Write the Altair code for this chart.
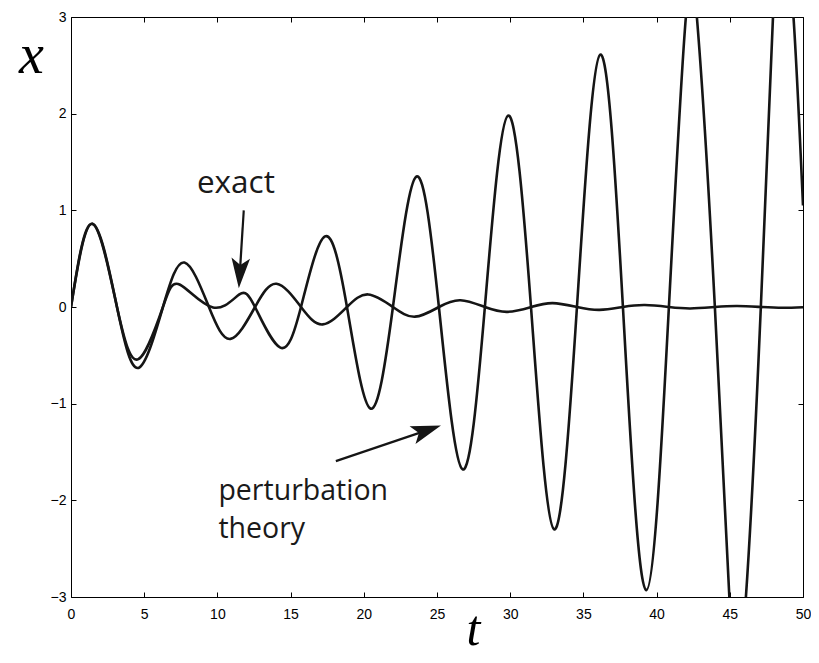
import altair as alt
import pandas as pd

# ---- data ----
t_exact = [0, 1.47, 3.14, 4.61, 6.28, 7.75, 9.42, 10.9, 12.57, 14.04, 15.71, 17.2,
           18.85, 20.3, 21.99, 23.5, 25.13, 26.6, 28.27, 29.8, 31.42, 32.9, 34.56,
           36.1, 37.7, 39.2, 40.84, 42.3, 43.98, 45.5, 47.12, 48.6, 50]
x_exact = [0, 0.86, 0, -0.63, 0, 0.46, 0, -0.33, 0, 0.24, 0, -0.18,
           0, 0.13, 0, -0.10, 0, 0.07, 0, -0.05, 0, 0.04, 0,
           -0.03, 0, 0.02, 0, -0.015, 0, 0.01, 0, -0.008, -0.002]

t_pert = [0, 1.45, 3.14, 4.6, 6.28, 7.45, 9.7, 11.5, 12.57, 14.3, 15.71, 17.35,
          18.85, 20.45, 21.99, 23.6, 25.13, 26.75, 28.27, 29.85, 31.42, 33.0,
          34.56, 36.15, 37.7, 39.3, 40.84, 42.0, 42.4, 42.75, 43.98, 44.97, 45.55,
          46.1, 47.12, 47.95, 48.65, 49.35, 50]
x_pert = [0, 0.86, 0, -0.54, 0, 0.23, -0.005, 0.13, 0, -0.42, 0, 0.73,
          0, -1.05, 0, 1.35, 0, -1.68, 0, 1.98, 0, -2.30,
          0, 2.61, 0, -2.93, 0, 3.0, 3.24, 3.0, 0, -3.0, -3.55,
          -3.0, 0, 3.0, 3.86, 3.0, 1.05]

x_ticks = [0, 5, 10, 15, 20, 25, 30, 35, 40, 45, 50]
y_ticks = [-3, -2, -1, 0, 1, 2, 3]

label_text = ["exact", "perturbation", "theory"]
label_t = [8.6, 10.07, 10.07]
label_x = [1.18, -2.0, -2.39]
label_size = [31.5, 28.5, 28.5]

arrow_t = [11.80, 18.09]
arrow_x = [1.0, -1.594]
arrow_t2 = [11.53, 24.30]
arrow_x2 = [0.35, -1.276]
head_angle = [93.7, 341.4]

# ---- tables ----
curves = pd.DataFrame({
    "t": t_exact + t_pert,
    "x": x_exact + x_pert,
    "series": ["exact"] * len(t_exact) + ["perturbation theory"] * len(t_pert),
})
labels = pd.DataFrame({"text": label_text, "t": label_t, "x": label_x, "size": label_size})
arrows = pd.DataFrame({"t": arrow_t, "x": arrow_x, "t2": arrow_t2, "x2": arrow_x2,
                       "ang": head_angle})

xscale = alt.Scale(domain=[0, 50], nice=False, zero=False)
yscale = alt.Scale(domain=[-3, 3], nice=False, zero=False)

common_axis = dict(offset=-5, tickSize=5, domain=False, grid=False, tickColor="#000",
                   tickWidth=1, labelFont="Liberation Sans", labelFontSize=14,
                   labelColor="#000", labelFlush=False, labelOverlap=False, format="d")

x_axis = alt.Axis(orient="bottom", values=x_ticks, labelPadding=10, title="t",
                  titleFont="Liberation Serif", titleFontStyle="italic",
                  titleFontWeight="normal", titleFontSize=50, titleColor="#000",
                  titleX=402, titleY=52, titleAlign="center",
                  titleBaseline="alphabetic", **common_axis)
y_axis = alt.Axis(orient="left", values=y_ticks, labelPadding=5, title="x",
                  titleFont="Liberation Serif", titleFontStyle="italic",
                  titleFontWeight="normal", titleFontSize=56, titleColor="#000",
                  titleAngle=0, titleX=-45, titleY=55, titleAlign="center",
                  titleBaseline="alphabetic", **common_axis)
x_axis_top = alt.Axis(orient="top", values=x_ticks, labels=False, title=None, **common_axis)
y_axis_right = alt.Axis(orient="right", values=y_ticks, labels=False, title=None, **common_axis)

lines = alt.Chart(curves).mark_line(
    interpolate="natural", clip=True, color="#151515", strokeWidth=2.6
).encode(
    x=alt.X("t:Q", scale=xscale, axis=x_axis),
    y=alt.Y("x:Q", scale=yscale, axis=y_axis),
    detail="series:N",
)

frame = alt.Chart(curves).mark_line(opacity=0).encode(
    x=alt.X("t:Q", scale=xscale, axis=x_axis_top),
    y=alt.Y("x:Q", scale=yscale, axis=y_axis_right),
    detail="series:N",
)

texts = alt.Chart(labels).mark_text(
    font="Open Sans", align="left", baseline="alphabetic", color="#1a1a1a"
).encode(
    x=alt.X("t:Q", scale=xscale),
    y=alt.Y("x:Q", scale=yscale),
    text="text:N",
    size=alt.Size("size:Q", scale=None),
)

shafts = alt.Chart(arrows).mark_rule(color="#151515", strokeWidth=2.2).encode(
    x=alt.X("t:Q", scale=xscale),
    y=alt.Y("x:Q", scale=yscale),
    x2="t2:Q",
    y2="x2:Q",
)

heads = alt.Chart(arrows).mark_point(
    shape="M1,0 L-1,-0.62 L-0.55,0 L-1,0.62 Z", filled=True, color="#151515",
    opacity=1, size=900, strokeWidth=0
).encode(
    x=alt.X("t2:Q", scale=xscale),
    y=alt.Y("x2:Q", scale=yscale),
    angle=alt.Angle("ang:Q", scale=None),
)

base = alt.layer(lines, texts, shafts, heads)

chart = alt.layer(base, frame).resolve_axis(
    x="independent", y="independent"
).properties(
    width=732, height=580,
    padding={"left": 63, "top": 9, "right": 8, "bottom": 58},
    autosize=alt.AutoSizeParams(type="none"),
).configure_view(stroke="#000", strokeWidth=1)

chart.save("out.html", embed_options={"renderer": "svg", "actions": False})
